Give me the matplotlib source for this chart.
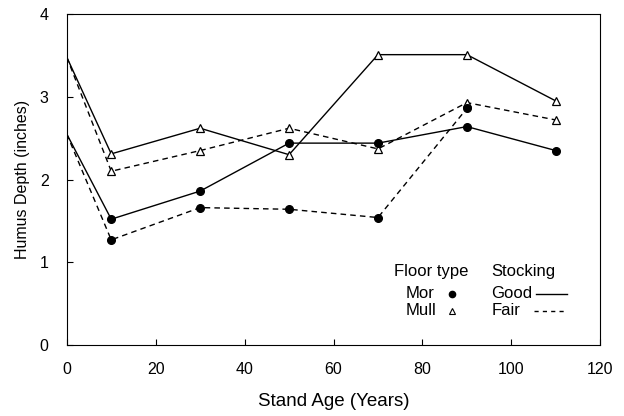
import matplotlib.pyplot as plt
import numpy as np

plt.rcParams['font.family'] = ['Liberation Sans', 'DejaVu Sans']

# stand age (years)
age = [0, 10, 30, 50, 70, 90, 110]
age_fair_mor = [0, 10, 30, 50, 70, 90]

# humus depth (inches)
mull_good = [3.48, 2.31, 2.62, 2.30, 3.51, 3.51, 2.95]
mull_fair = [3.48, 2.10, 2.35, 2.62, 2.37, 2.93, 2.72]
mor_good = [2.55, 1.52, 1.86, 2.44, 2.44, 2.64, 2.35]
mor_fair = [2.55, 1.27, 1.66, 1.64, 1.54, 2.86]

fig = plt.figure(figsize=(6.24, 4.16), dpi=100)
ax = fig.add_axes([0.107, 0.171, 0.855, 0.795])

dash = (0, (4, 3))
mev = list(range(1, 7))
ax.plot(age, mull_good, '-', color='black', lw=1, marker='^', ms=6,
        mfc='white', mec='black', mew=0.9, markevery=mev)
ax.plot(age, mull_fair, color='black', lw=1, ls=dash, marker='^', ms=6,
        mfc='white', mec='black', mew=0.9, markevery=mev)
ax.plot(age, mor_good, '-', color='black', lw=1, marker='o', ms=5.5,
        mfc='black', mec='black', markevery=mev)
ax.plot(age_fair_mor, mor_fair, color='black', lw=1, ls=dash, marker='o', ms=5.5,
        mfc='black', mec='black', markevery=list(range(1, 6)))

ax.set_xlim(0, 120)
ax.set_ylim(0, 4)
ax.set_xticks(np.arange(0, 121, 20))
ax.set_yticks(np.arange(0, 5, 1))
ax.tick_params(direction='in', length=4, labelsize=11.5)
ax.tick_params(axis='x', pad=12)
ax.tick_params(axis='y', pad=13)
ax.set_xlabel('Stand Age (Years)', fontsize=13.5, labelpad=12)
ax.set_ylabel('Humus Depth (inches)', fontsize=11.5, labelpad=7)

# hand-made legend
fs = 12
ax.text(73.6, 0.89, 'Floor type', fontsize=fs, va='center')
ax.text(95.5, 0.89, 'Stocking', fontsize=fs, va='center')
ax.text(76.3, 0.62, 'Mor', fontsize=fs, va='center')
ax.text(76.3, 0.41, 'Mull', fontsize=fs, va='center')
ax.plot([86.7], [0.62], 'o', color='black', ms=4.5)
ax.plot([86.7], [0.41], '^', mfc='white', mec='black', ms=4.5, mew=0.8)
ax.text(95.5, 0.62, 'Good', fontsize=fs, va='center')
ax.text(95.5, 0.41, 'Fair', fontsize=fs, va='center')
ax.plot([105.6, 112.6], [0.62, 0.62], '-', color='black', lw=1)
ax.plot([105.0, 112.6], [0.41, 0.41], color='black', lw=1, ls=(0, (3, 3)))

fig.savefig('out.png', dpi=100)
